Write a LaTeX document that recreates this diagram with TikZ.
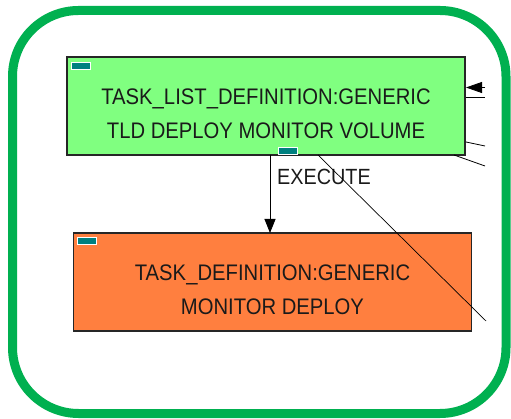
\documentclass[tikz,border=0pt]{standalone}
\usepackage{fontspec}
\setmainfont{Liberation Sans}
\usetikzlibrary{arrows.meta}
\definecolor{framegreen}{HTML}{00B050}
\definecolor{boxgreen}{HTML}{80FF80}
\definecolor{boxorange}{HTML}{FF7F3F}
\definecolor{markteal}{HTML}{008080}
\definecolor{txt}{HTML}{1A1A1A}
\newfontfamily\boxfont[FakeStretch=0.9]{Liberation Sans}
\tikzset{
  box/.style={draw=black!85, line width=1.2pt, minimum width=398pt, minimum height=98pt, inner sep=0pt},
  boxtext/.style={font=\boxfont\fontsize{22.5}{34}\selectfont, text=txt, align=center, inner sep=0pt},
  tealmark/.style={fill=markteal, draw=white, line width=0.6pt, minimum width=19pt, minimum height=7pt, inner sep=0pt},
  conn/.style={draw=black, line width=0.8pt},
  lbl/.style={font=\boxfont\fontsize{22}{24}\selectfont, text=txt, inner sep=0pt}
}
\begin{document}
\begin{tikzpicture}[x=1pt,y=-1pt]
\useasboundingbox (0,0) rectangle (511,419);
\draw[framegreen, line width=9pt, rounded corners=66pt] (12.5,10.5) rectangle (506,413.5);
% nodes
\node[box, fill=boxgreen] (tld) at (266,106) {};
\node[boxtext] (tldtext) at (266,114) {TASK\_LIST\_DEFINITION:GENERIC\\TLD DEPLOY MONITOR VOLUME};
\node[box, fill=boxorange] (td) at (272.5,282) {};
\node[boxtext] (tdtext) at (272.5,290) {TASK\_DEFINITION:GENERIC\\MONITOR DEPLOY};
\node[tealmark] (m1) at (81,66) {};
\node[tealmark] (m2) at (287.5,151) {};
\node[tealmark] (m3) at (86.5,241) {};
% off-picture ends
\coordinate (r1) at (485,87.5);
\coordinate (r2) at (485,97);
\coordinate (r3) at (485,146);
\coordinate (r4) at (485,166);
\coordinate (r5) at (486,321);
\coordinate (s3) at (466,142);
\coordinate (s4) at (454,155);
\coordinate (d0) at (318,155);
% connectors
\draw[conn, -{Triangle[width=11pt,length=14pt]}] (270,155) -- (270,233);
\node[lbl, anchor=west] (ex) at (277,177) {EXECUTE};
\draw[conn, -{Triangle[width=11pt,length=16pt]}] (r1) -- (466,87.5);
\draw[conn] (466,97) -- (r2);
\draw[conn] (s3) -- (r3);
\draw[conn] (s4) -- (r4);
\draw[conn, line width=0.7pt] (d0) -- (r5);
\end{tikzpicture}
\end{document}
